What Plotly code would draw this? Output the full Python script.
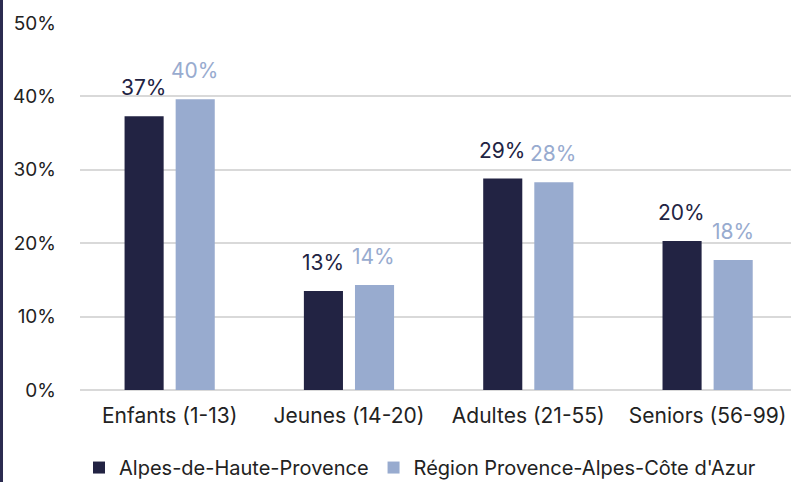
import plotly.graph_objects as go

categories = ["Enfants (1-13)", "Jeunes (14-20)", "Adultes (21-55)", "Seniors (56-99)"]
alpes = [37.3, 13.5, 28.8, 20.3]
region = [39.6, 14.3, 28.3, 17.7]
labels_alpes = ["37%", "13%", "29%", "20%"]
labels_region = ["40%", "14%", "28%", "18%"]
tick_vals = [0, 10, 20, 30, 40, 50]
tick_text = ["0%", "10%", "20%", "30%", "40%", "50%"]

dark = "#222343"
light = "#98ABCF"
font = "Inter, Open Sans, sans-serif"

fig = go.Figure()
fig.add_trace(go.Bar(
    x=categories, y=alpes, name="Alpes-de-Haute-Provence",
    marker=dict(color=dark, line=dict(width=0)),
))
fig.add_trace(go.Bar(
    x=categories, y=region, name="Région Provence-Alpes-Côte d'Azur",
    marker=dict(color=light, line=dict(width=0)),
))

annotations = []
for cat, v, t in zip(categories, alpes, labels_alpes):
    annotations.append(dict(x=cat, y=v, xref="x", yref="y", text=t, showarrow=False,
                            xanchor="center", yanchor="bottom", xshift=-26, yshift=14,
                            font=dict(size=21, color=dark, family=font)))
for cat, v, t in zip(categories, region, labels_region):
    annotations.append(dict(x=cat, y=v, xref="x", yref="y", text=t, showarrow=False,
                            xanchor="center", yanchor="bottom", xshift=25, yshift=14,
                            font=dict(size=21, color=light, family=font)))

fig.update_layout(
    width=791, height=482,
    margin=dict(l=80, r=0, t=23, b=92, autoexpand=False),
    paper_bgcolor="white", plot_bgcolor="white",
    barmode="group", bargap=0.43, bargroupgap=0.235,
    font=dict(family=font, size=18, color="#222222"),
    showlegend=True,
    legend=dict(orientation="h", xref="container", yref="container",
                x=0.531, xanchor="center", y=0.03, yanchor="middle",
                font=dict(size=20, color="#222222"), itemwidth=30,
                traceorder="normal"),
    annotations=annotations,
    shapes=[dict(type="line", xref="paper", yref="paper",
                 x0=-0.1104, x1=-0.1104, y0=-0.3, y1=1.1,
                 line=dict(color="#2B2B50", width=3))],
)
fig.update_xaxes(showgrid=False, showline=False, ticks="", automargin=False,
                 range=[-0.5, 3.465], ticklabelstandoff=11,
                 tickfont=dict(size=21, color="#222222"))
fig.update_yaxes(range=[0, 50], tickvals=tick_vals, ticktext=tick_text,
                 showgrid=True, gridcolor="#D9D9D9", gridwidth=1.5,
                 zeroline=True, zerolinecolor="#D9D9D9", zerolinewidth=1.5,
                 showline=False, ticks="", ticklabelstandoff=23, automargin=False,
                 tickfont=dict(size=19, color="#222222"))

fig.write_html("out.html", config={"displayModeBar": False},
               post_script="document.body.style.margin='0';document.body.style.padding='0';")
